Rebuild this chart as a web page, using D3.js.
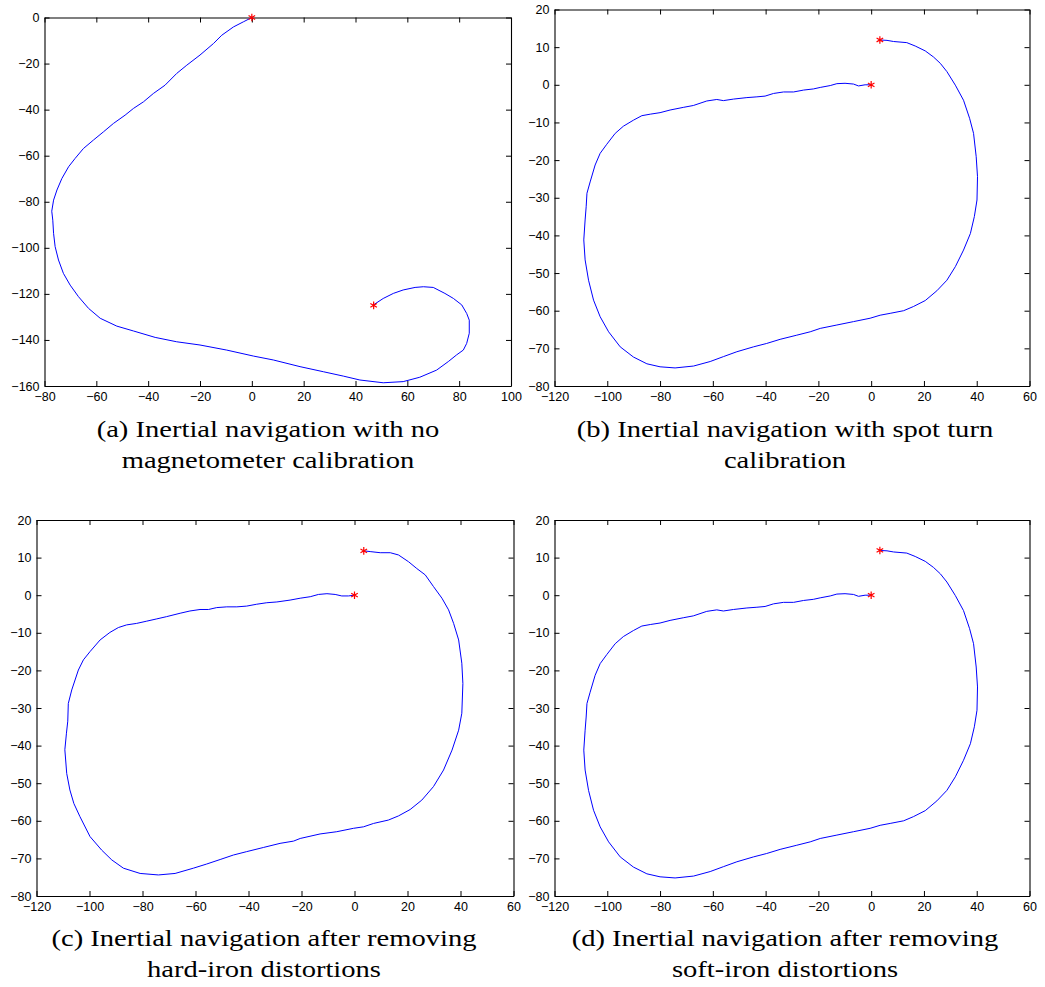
<!DOCTYPE html>
<html>
<head>
<meta charset="utf-8">
<script src="https://cdn.jsdelivr.net/npm/d3@7"></script>
<style>
  html, body { margin: 0; padding: 0; background: #fff; }
  svg { display: block; }
  .tick text { font-family: "Liberation Sans", Arial, Helvetica, sans-serif; font-size: 12.5px; fill: #000; }
  .caption { font-family: "Liberation Serif", "Times New Roman", serif; font-size: 24px; fill: #000; }
</style>
</head>
<body>
<svg id="chart" width="1045" height="987"></svg>
<script>
// ---------------- DATA ----------------
const captionsA = ["(a) Inertial navigation with no", "magnetometer calibration"];
const captionsB = ["(b) Inertial navigation with spot turn", "calibration"];
const captionsC = ["(c) Inertial navigation after removing", "hard-iron distortions"];
const captionsD = ["(d) Inertial navigation after removing", "soft-iron distortions"];

const xTicksA = [-80, -60, -40, -20, 0, 20, 40, 60, 80, 100];
const yTicksA = [-160, -140, -120, -100, -80, -60, -40, -20, 0];
const xTicksBCD = [-120, -100, -80, -60, -40, -20, 0, 20, 40, 60];
const yTicksBCD = [-80, -70, -60, -50, -40, -30, -20, -10, 0, 10, 20];

const domainXA = [-80, 100], domainYA = [-160, 0];
const domainXB = [-120, 60], domainYB = [-80, 20];

// trajectory (a): no calibration
const trackA = [
  [0,0],[-3.3,-1.9],[-7.1,-4.1],[-11.6,-7.7],[-14.8,-11.3],[-20.0,-16.3],[-25.1,-20.7],[-29.0,-24.3],
  [-33.5,-29.4],[-38.0,-33.0],[-41.8,-36.6],[-45.7,-39.5],[-48.9,-42.4],[-53.4,-46.0],[-57.2,-49.6],
  [-61.1,-53.2],[-65.0,-56.9],[-68.2,-61.2],[-70.7,-64.8],[-73.3,-69.9],[-75.2,-74.9],[-76.5,-79.3],
  [-77.2,-84.1],[-76.8,-88.0],[-76.5,-93.7],[-75.9,-99.5],[-74.6,-105.3],[-72.7,-111.1],[-70.1,-116.2],
  [-66.9,-121.2],[-63.0,-126.3],[-58.5,-130.6],[-52.1,-134.0],[-45.7,-136.1],[-37.3,-138.9],[-29.0,-140.8],
  [-20.0,-142.2],[-9.7,-144.4],[0.6,-147.0],[8.3,-148.7],[18.6,-151.6],[27.6,-153.8],[35.3,-155.7],
  [41.7,-157.4],[50.7,-158.6],[58.4,-158.1],[64.8,-156.2],[71.3,-153.1],[75.8,-149.4],[79.0,-146.5],
  [81.6,-144.4],[82.9,-141.5],[83.9,-137.1],[83.9,-131.4],[82.9,-128.5],[81.0,-124.8],[77.8,-122.0],
  [74.5,-119.8],[70.0,-117.2],[66.2,-116.9],[63.0,-117.2],[58.4,-118.3],[54.6,-119.8],[50.7,-122.0],
  [46.9,-124.8]
];
const starsA = [[0,0],[47,-125]];

// trajectory (b): spot turn calibration
const trackB = [
  [0,0],[-2.3,0],[-4.8,-0.3],[-6.7,0.2],[-9.9,0.4],[-13.0,0.3],[-15.5,-0.2],[-19.3,-0.7],[-21.9,-1.1],
  [-25.6,-1.4],[-29.4,-1.9],[-33.2,-1.9],[-37.0,-2.3],[-40.2,-3.0],[-43.3,-3.2],[-47.1,-3.4],[-52.2,-3.8],
  [-56.0,-4.2],[-58.5,-3.9],[-62.3,-4.3],[-67.4,-5.5],[-71.2,-6.0],[-76.2,-6.7],[-80.0,-7.4],[-83.7,-7.8],
  [-86.9,-8.2],[-90.1,-9.4],[-93.9,-11.0],[-97.0,-12.9],[-100.2,-15.8],[-102.7,-18.2],[-104.6,-21.3],
  [-106.5,-25.8],[-107.7,-28.8],[-108.0,-32.4],[-108.4,-35.9],[-108.9,-41.2],[-108.4,-46.5],[-107.1,-51.9],
  [-105.2,-57.2],[-102.7,-61.6],[-99.5,-65.6],[-95.1,-69.6],[-90.1,-72.3],[-85.0,-74.1],[-80.0,-74.9],
  [-74.3,-75.2],[-67.3,-74.7],[-61.0,-73.5],[-56.0,-72.2],[-50.9,-70.9],[-44.6,-69.6],[-39.6,-68.7],
  [-34.5,-67.6],[-28.2,-66.5],[-23.1,-65.6],[-19.3,-64.7],[-13.0,-63.8],[-6.7,-62.9],[-0.4,-62.0],
  [3.4,-61.2],[7.2,-60.7],[12.3,-60.0],[16.0,-58.9],[20.5,-57.3],[24.9,-54.7],[28.7,-51.9],[31.9,-48.3],
  [35.0,-43.9],[37.6,-39.5],[39.1,-35.0],[40.1,-30.6],[40.3,-24.4],[39.8,-19.1],[38.8,-12.9],[37.3,-8.9],
  [35.0,-4.1],[31.9,-0.1],[28.7,3.5],[26.2,5.7],[23.6,7.4],[20.5,9.0],[16.7,10.3],[13.5,11.2],[8.5,11.5],
  [6.0,11.8],[3.3,11.9]
];
const starsB = [[0,0],[3.3,11.9]];

// trajectory (c): hard-iron removed
const trackC = [
  [0,0],[-2.3,-0.2],[-4.8,-0.2],[-7.3,0.2],[-10.4,0.4],[-13.6,0.2],[-16.7,-0.4],[-20.5,-0.8],[-24.3,-1.3],
  [-29.3,-1.8],[-33.1,-2.0],[-36.9,-2.4],[-40.7,-2.9],[-44.4,-3.1],[-48.2,-3.1],[-52.0,-3.3],[-55.1,-3.8],
  [-58.3,-3.8],[-62.1,-4.2],[-65.8,-4.8],[-70.9,-5.7],[-74.6,-6.3],[-78.4,-6.9],[-82.2,-7.5],[-86.0,-7.9],
  [-89.1,-8.6],[-92.3,-9.9],[-96.0,-11.9],[-99.8,-15.0],[-102.3,-17.2],[-104.2,-19.9],[-106.7,-25.2],
  [-108.0,-28.8],[-108.2,-33.5],[-108.7,-36.7],[-109.3,-41.1],[-108.6,-47.4],[-107.4,-51.8],[-105.9,-55.4],
  [-103.6,-58.9],[-99.8,-64.2],[-95.4,-67.8],[-91.6,-70.4],[-87.2,-72.6],[-80.9,-74.0],[-74.0,-74.4],
  [-67.7,-74.0],[-60.8,-72.6],[-55.8,-71.5],[-50.7,-70.3],[-45.7,-69.1],[-40.7,-68.2],[-34.4,-67.1],
  [-28.1,-66.0],[-23.0,-65.4],[-20.5,-64.7],[-13.0,-63.5],[-6.7,-62.9],[-0.4,-62.0],[3.4,-61.6],[7.2,-60.7],
  [12.8,-59.8],[16.6,-58.7],[21.0,-57.0],[25.4,-54.5],[29.8,-50.9],[33.6,-46.5],[36.8,-41.2],[39.3,-35.9],
  [40.5,-31.4],[40.9,-23.5],[40.5,-18.1],[39.3,-11.9],[37.4,-7.5],[35.5,-3.9],[33.0,-0.8],[29.8,2.3],
  [26.7,5.4],[23.5,7.1],[20.4,8.9],[16.6,10.7],[13.5,11.3],[9.7,11.3],[5.9,11.6],[3.5,11.8]
];
const starsC = [[0,0],[3.5,11.8]];

// trajectory (d): soft-iron removed
const trackD = [
  [0,0],[-2.3,0],[-4.8,-0.3],[-6.7,0.2],[-9.9,0.4],[-13.0,0.3],[-15.5,-0.2],[-19.3,-0.7],[-21.9,-1.1],
  [-25.6,-1.4],[-29.4,-1.9],[-33.2,-1.9],[-37.0,-2.3],[-40.2,-3.0],[-43.3,-3.2],[-47.1,-3.4],[-52.2,-3.8],
  [-56.0,-4.2],[-58.5,-3.9],[-62.3,-4.3],[-67.4,-5.5],[-71.2,-6.0],[-76.2,-6.7],[-80.0,-7.4],[-83.7,-7.8],
  [-86.9,-8.2],[-90.1,-9.4],[-93.9,-11.0],[-97.0,-12.9],[-100.2,-15.8],[-102.7,-18.2],[-104.6,-21.3],
  [-106.5,-25.8],[-107.7,-28.8],[-108.0,-32.4],[-108.4,-35.9],[-108.9,-41.2],[-108.4,-46.5],[-107.1,-51.9],
  [-105.2,-57.2],[-102.7,-61.6],[-99.5,-65.6],[-95.1,-69.6],[-90.1,-72.3],[-85.0,-74.1],[-80.0,-74.9],
  [-74.3,-75.2],[-67.3,-74.7],[-61.0,-73.5],[-56.0,-72.2],[-50.9,-70.9],[-44.6,-69.6],[-39.6,-68.7],
  [-34.5,-67.6],[-28.2,-66.5],[-23.1,-65.6],[-19.3,-64.7],[-13.0,-63.8],[-6.7,-62.9],[-0.4,-62.0],
  [3.4,-61.2],[7.2,-60.7],[12.3,-60.0],[16.0,-58.9],[20.5,-57.3],[24.9,-54.7],[28.7,-51.9],[31.9,-48.3],
  [35.0,-43.9],[37.6,-39.5],[39.1,-35.0],[40.1,-30.6],[40.3,-24.4],[39.8,-19.1],[38.8,-12.9],[37.3,-8.9],
  [35.0,-4.1],[31.9,-0.1],[28.7,3.5],[26.2,5.7],[23.6,7.4],[20.5,9.0],[16.7,10.3],[13.5,11.2],[8.5,11.5],
  [6.0,11.8],[3.3,11.9]
];
const starsD = [[0,0],[3.3,11.9]];

// ---------------- LAYOUT ----------------
const panels = [
  { box: [44.5, 17.5, 511, 386], dx: domainXA, dy: domainYA, xt: xTicksA, yt: yTicksA, track: trackA, stars: starsA, cap: captionsA, capX: 268, capY: 437 },
  { box: [554.5, 9.5, 1029.5, 386], dx: domainXB, dy: domainYB, xt: xTicksBCD, yt: yTicksBCD, track: trackB, stars: starsB, cap: captionsB, capX: 785, capY: 437 },
  { box: [36.5, 520, 513.5, 896], dx: domainXB, dy: domainYB, xt: xTicksBCD, yt: yTicksBCD, track: trackC, stars: starsC, cap: captionsC, capX: 264, capY: 946 },
  { box: [554.5, 520, 1029.5, 896], dx: domainXB, dy: domainYB, xt: xTicksBCD, yt: yTicksBCD, track: trackD, stars: starsD, cap: captionsD, capX: 785, capY: 946 }
];

const svg = d3.select("#chart");
const fmt = d3.format("d");
const capStretch = 1.19;

panels.forEach(p => {
  const [x0, y0, x1, y1] = p.box;
  const x = d3.scaleLinear().domain(p.dx).range([x0, x1]);
  const y = d3.scaleLinear().domain(p.dy).range([y1, y0]);
  const g = svg.append("g");

  const tick = 5;
  g.append("g").attr("transform", `translate(0,${y1})`)
    .call(d3.axisBottom(x).tickValues(p.xt).tickFormat(fmt).tickSizeInner(-tick).tickSizeOuter(0).tickPadding(6));
  g.append("g").attr("transform", `translate(0,${y0})`)
    .call(d3.axisTop(x).tickValues(p.xt).tickFormat("").tickSizeInner(-tick).tickSizeOuter(0));
  g.append("g").attr("transform", `translate(${x0},0)`)
    .call(d3.axisLeft(y).tickValues(p.yt).tickFormat(fmt).tickSizeInner(-tick).tickSizeOuter(0).tickPadding(5));
  g.append("g").attr("transform", `translate(${x1},0)`)
    .call(d3.axisRight(y).tickValues(p.yt).tickFormat("").tickSizeInner(-tick).tickSizeOuter(0));

  g.selectAll(".domain").attr("stroke", "#000").attr("stroke-width", 1.1);
  g.selectAll(".tick line").attr("stroke", "#000").attr("stroke-width", 1);

  const line = d3.line().x(d => x(d[0])).y(d => y(d[1]));
  g.append("path").datum(p.track)
    .attr("d", line).attr("fill", "none").attr("stroke", "#0000ff").attr("stroke-width", 1)
    .attr("stroke-linejoin", "round");

  const sym = d3.symbol(d3.symbolAsterisk, 40);
  g.selectAll(".star").data(p.stars).join("path")
    .attr("class", "star")
    .attr("d", sym)
    .attr("transform", d => `translate(${x(d[0])},${y(d[1])})`)
    .attr("fill", "none").attr("stroke", "#ff0000").attr("stroke-width", 1.2);

  p.cap.forEach((t, i) => {
    const txt = svg.append("text").attr("class", "caption")
      .attr("x", p.capX).attr("y", p.capY + i * 30.5)
      .attr("text-anchor", "middle").text(t);
    const len = txt.node().getComputedTextLength();
    txt.attr("textLength", len * capStretch).attr("lengthAdjust", "spacingAndGlyphs");
  });
});

svg.selectAll("g").filter(function(){ return this.hasAttribute("font-family"); })
  .attr("font-family", null).attr("font-size", null);
</script>
</body>
</html>
